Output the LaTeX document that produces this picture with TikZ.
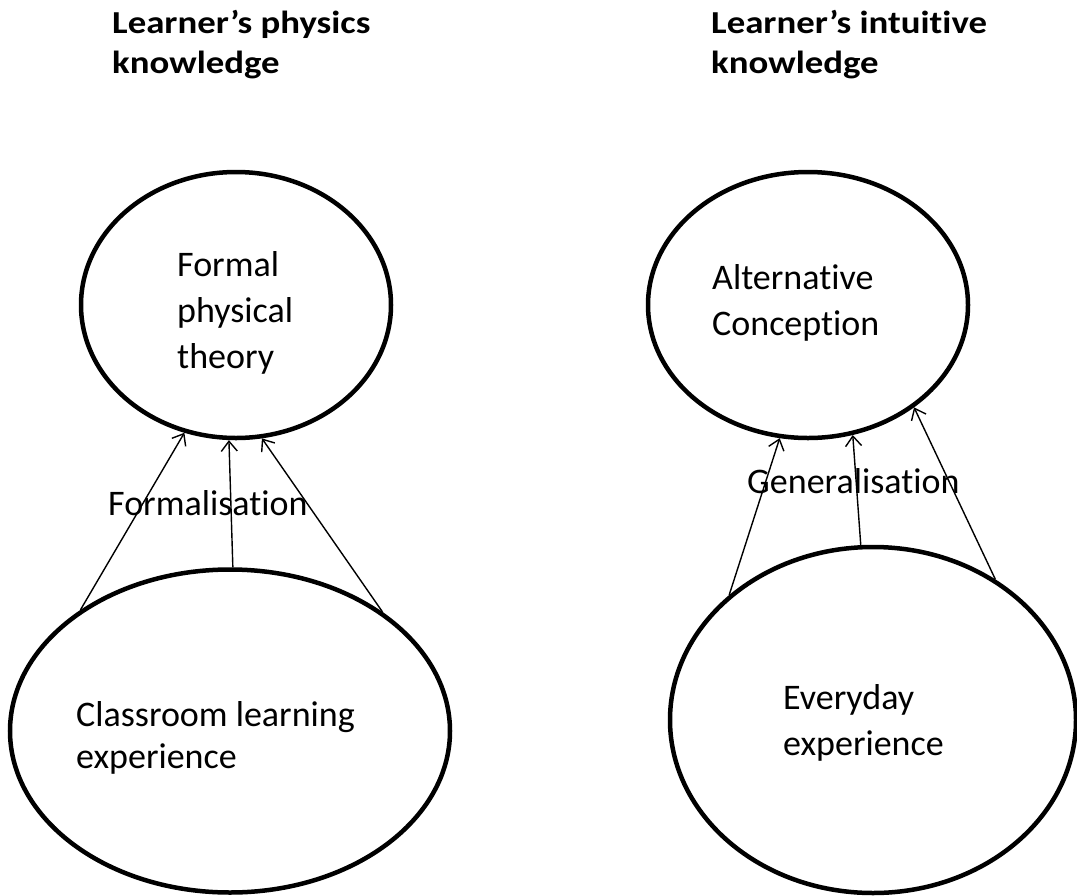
\documentclass[tikz,border=0pt]{standalone}
\usepackage{fontspec}
\setmainfont[Ligatures=NoCommon]{Carlito}
\usetikzlibrary{shapes.geometric,arrows.meta}
\newcommand{\widen}[1]{\scalebox{1.15}[1]{#1}}
\begin{document}
\begin{tikzpicture}[x=1pt,y=-1pt,
  bubble/.style={draw=black,line width=4.5pt,ellipse,inner sep=0pt},
  lbl/.style={inner sep=0pt,anchor=base west,align=left,font=\fontsize{36}{46}\selectfont},
  ttl/.style={inner sep=0pt,anchor=base west,align=left,font=\fontsize{32}{40}\selectfont\bfseries},
  link/.style={line width=1.4pt,-{Straight Barb[length=10pt,width=16pt,line width=1.4pt]}}]
\useasboundingbox[fill=white] (0,0) rectangle (1077,895);
% titles
\node[ttl] (t1) at (112,73) {\widen{Learner’s physics}\\\widen{knowledge}};
\node[ttl] (t2) at (711,73) {\widen{Learner’s intuitive}\\\widen{knowledge}};
% ellipses
\node[bubble,minimum width=310pt,minimum height=266pt] (fpt) at (236,305) {};
\node[bubble,minimum width=320pt,minimum height=266pt] (ac) at (808,305) {};
\node[bubble,minimum width=440pt,minimum height=323pt] (cle) at (230,731) {};
\node[bubble,minimum width=406pt,minimum height=346pt] (ee) at (873,720) {};
% texts
\node[lbl] (fptt) at (177,368) {Formal\\physical\\theory};
\node[lbl] (act) at (712,335) {Alternative\\Conception};
\node[lbl,font=\fontsize{36}{42}\selectfont] (clet) at (76,768) {Classroom learning\\experience};
\node[lbl] (eet) at (783,755) {Everyday\\experience};
% arrows
\draw[link] (cle.141.5) -- (fpt.248);
\draw[link] (cle.89) -- (fpt.267);
\draw[link] (cle.38) -- (fpt.281);
\draw[link] (ee.139) -- (ac.258);
\draw[link] (ee.94) -- (ac.289);
\draw[link] (ee.49) -- (ac.316.7);
% connector labels
\node[lbl] (form) at (108,515) {Formalisation};
\node[lbl] (gen) at (747,493) {Generalisation};
\end{tikzpicture}
\end{document}
